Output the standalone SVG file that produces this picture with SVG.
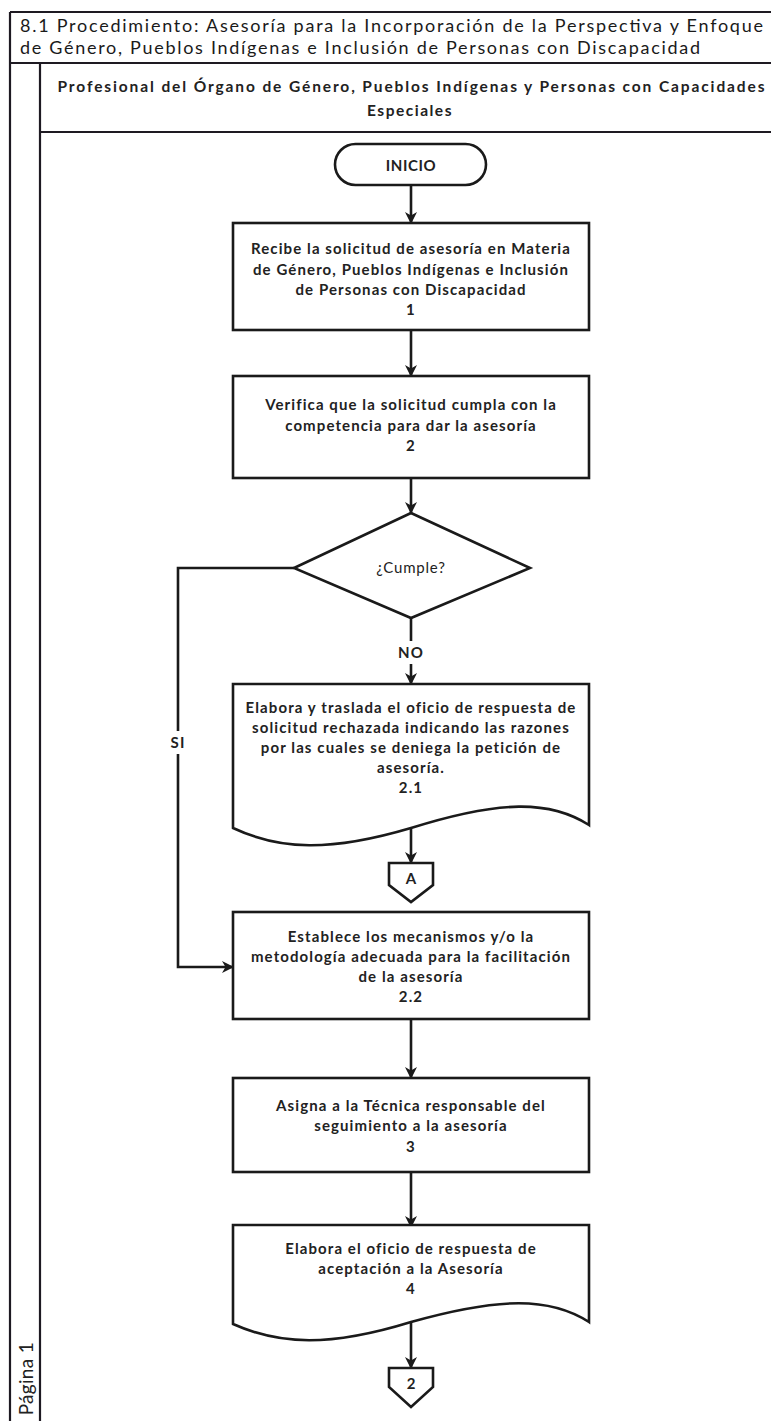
<svg xmlns="http://www.w3.org/2000/svg" width="771" height="1421" viewBox="0 0 771 1421">
<style>
.frame{fill:none;stroke:#1e1a22;stroke-width:2.2}
.shape{fill:#fff;stroke:#1a1a1a;stroke-width:2.6}
.conn{fill:none;stroke:#1a1a1a;stroke-width:2.6}
.t{font-family:Lato,"Open Sans","Liberation Sans",sans-serif;font-weight:700;font-size:15px;letter-spacing:1.1px;fill:#222;text-anchor:middle}
.tn{font-family:Lato,"Open Sans","Liberation Sans",sans-serif;font-weight:400;font-size:15px;letter-spacing:0.8px;fill:#222;text-anchor:middle}
.title{font-family:Lato,"Open Sans","Liberation Sans",sans-serif;font-weight:400;font-size:18px;fill:#1a1a1a}
.hdr{font-family:Lato,"Open Sans","Liberation Sans",sans-serif;font-weight:700;font-size:15.5px;fill:#222;text-anchor:middle}
</style>
<defs>
<marker id="arr" viewBox="0 0 12 12" refX="11" refY="6" markerWidth="12" markerHeight="12" markerUnits="userSpaceOnUse" orient="auto">
<path d="M0,0 L12,6 L0,12 L3.5,6 Z" fill="#1a1a1a"/>
</marker>
</defs>
<rect width="771" height="1421" fill="#fff"/>
<g id="frame">
<line class="frame" x1="10" y1="12" x2="771" y2="12"/>
<line class="frame" x1="10" y1="12" x2="10" y2="1421"/>
<line class="frame" x1="10" y1="63" x2="771" y2="63"/>
<line class="frame" x1="40" y1="63" x2="40" y2="1421"/>
<line class="frame" x1="40" y1="132" x2="771" y2="132"/>
<text class="title" x="20" y="32" textLength="743" lengthAdjust="spacing">8.1 Procedimiento: Asesoría para la Incorporación de la Perspectiva y Enfoque</text>
<text class="title" x="20" y="54" textLength="680" lengthAdjust="spacing">de Género, Pueblos Indígenas e Inclusión de Personas con Discapacidad</text>
<text class="hdr" x="411" y="92" textLength="707" lengthAdjust="spacing">Profesional del Órgano de Género, Pueblos Indígenas y Personas con Capacidades</text>
<text class="hdr" x="410" y="116" style="letter-spacing:1.5px">Especiales</text>
<text class="tn" transform="translate(33,1342) rotate(-90)" style="text-anchor:end;font-size:19px;letter-spacing:0.3px">Página 1</text>
</g>
<g id="connectors">
<line class="conn" x1="411" y1="185" x2="411" y2="223" marker-end="url(#arr)"/>
<line class="conn" x1="411" y1="330" x2="411" y2="376" marker-end="url(#arr)"/>
<line class="conn" x1="411" y1="478" x2="411" y2="513" marker-end="url(#arr)"/>
<line class="conn" x1="411" y1="618" x2="411" y2="641"/>
<line class="conn" x1="411" y1="664" x2="411" y2="684" marker-end="url(#arr)"/>
<text class="t" x="411" y="658">NO</text>
<polyline class="conn" points="294,568 178,568 178,731"/>
<polyline class="conn" points="178,754 178,967 233,967" marker-end="url(#arr)"/>
<text class="t" x="178" y="748">SI</text>
<line class="conn" x1="411" y1="829" x2="411" y2="863" marker-end="url(#arr)"/>
<line class="conn" x1="411" y1="1019" x2="411" y2="1078" marker-end="url(#arr)"/>
<line class="conn" x1="411" y1="1172" x2="411" y2="1227" marker-end="url(#arr)"/>
<line class="conn" x1="411" y1="1322" x2="411" y2="1368" marker-end="url(#arr)"/>
</g>
<g id="inicio">
<rect class="shape" x="335" y="144" width="151" height="41" rx="20.5"/>
<text class="tn" x="411" y="171" style="font-weight:700;letter-spacing:0.6px">INICIO</text>
</g>
<g id="n1">
<rect class="shape" x="233" y="223" width="356" height="107"/>
<text class="t" x="411" y="254">Recibe la solicitud de asesoría en Materia</text>
<text class="t" x="411" y="275">de Género, Pueblos Indígenas e Inclusión</text>
<text class="t" x="411" y="295">de Personas con Discapacidad</text>
<text class="t" x="411" y="315">1</text>
</g>
<g id="n2">
<rect class="shape" x="233" y="376" width="356" height="102"/>
<text class="t" x="411" y="410">Verifica que la solicitud  cumpla con la</text>
<text class="t" x="411" y="431">competencia para dar la asesoría</text>
<text class="t" x="411" y="451">2</text>
</g>
<g id="d1">
<polygon class="shape" points="411,513 530,568 411,618 294,568"/>
<text class="tn" x="411" y="573">¿Cumple?</text>
</g>
<g id="n21">
<path class="shape" d="M233,684 H589 V825 C550,800 500,800 411,828 C330,852 280,850 233,828 Z"/>
<text class="t" x="411" y="713">Elabora y traslada el oficio de respuesta de</text>
<text class="t" x="411" y="733">solicitud rechazada indicando las razones</text>
<text class="t" x="411" y="753">por las cuales se deniega la petición de</text>
<text class="t" x="411" y="773">asesoría.</text>
<text class="t" x="411" y="793">2.1</text>
</g>
<g id="offA">
<polygon class="shape" points="389,863 433,863 433,885 411,902 389,885"/>
<text class="t" x="411" y="884" style="letter-spacing:0">A</text>
</g>
<g id="n22">
<rect class="shape" x="233" y="912" width="356" height="107"/>
<text class="t" x="411" y="942">Establece los mecanismos y/o la</text>
<text class="t" x="411" y="962">metodología adecuada para la facilitación</text>
<text class="t" x="411" y="982">de la asesoría</text>
<text class="t" x="411" y="1002">2.2</text>
</g>
<g id="n3">
<rect class="shape" x="233" y="1078" width="356" height="94"/>
<text class="t" x="411" y="1111">Asigna a la Técnica responsable del</text>
<text class="t" x="411" y="1131">seguimiento a la asesoría</text>
<text class="t" x="411" y="1152">3</text>
</g>
<g id="n4">
<path class="shape" d="M233,1225 H589 V1322 C550,1297 500,1297 411,1322 C330,1347 280,1345 233,1324 Z"/>
<text class="t" x="411" y="1254">Elabora el oficio de respuesta de</text>
<text class="t" x="411" y="1274">aceptación a la Asesoría</text>
<text class="t" x="411" y="1294">4</text>
</g>
<g id="off2">
<polygon class="shape" points="389,1368 433,1368 433,1387 411,1407 389,1387"/>
<text class="t" x="411" y="1389" style="letter-spacing:0">2</text>
</g>
</svg>
